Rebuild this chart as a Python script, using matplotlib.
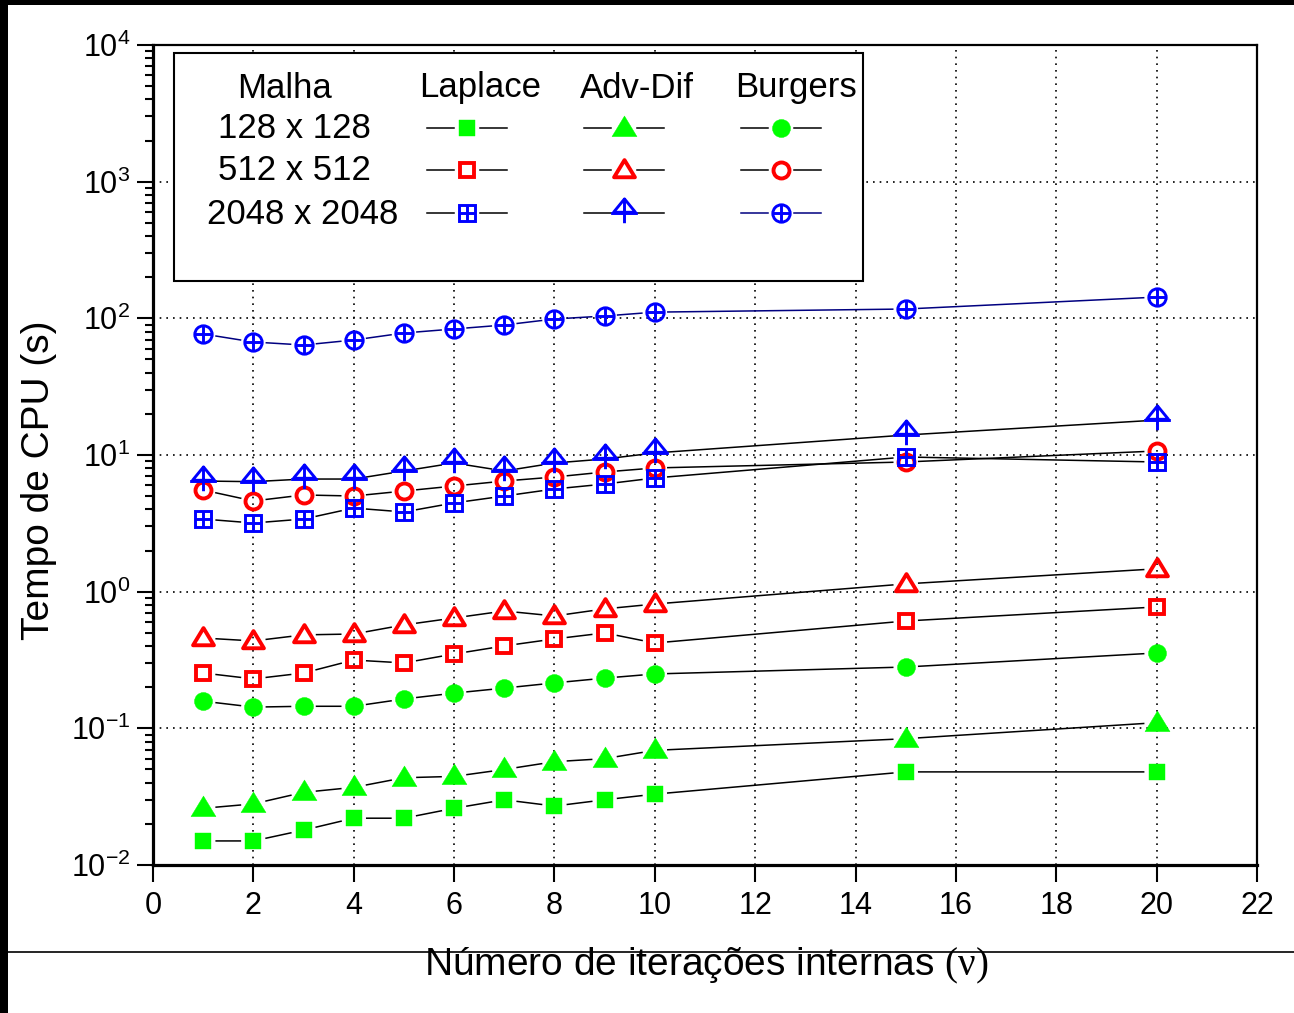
import numpy as np
import matplotlib
matplotlib.use("Agg")
import matplotlib.pyplot as plt
from matplotlib.path import Path
from matplotlib.patches import Rectangle
from matplotlib.lines import Line2D

plt.rcParams["font.family"] = "Liberation Sans"
plt.rcParams["mathtext.fontset"] = "custom"
plt.rcParams["mathtext.rm"] = "Liberation Serif"
plt.rcParams["mathtext.default"] = "regular"
plt.rcParams["axes.unicode_minus"] = False

# data
nu = [1, 2, 3, 4, 5, 6, 7, 8, 9, 10, 15, 20]

lap128 = [0.015, 0.015, 0.018, 0.022, 0.022, 0.026, 0.030, 0.027, 0.030, 0.033, 0.048, 0.048]
adv128 = [0.026, 0.028, 0.034, 0.037, 0.0435, 0.0445, 0.050, 0.057, 0.060, 0.069, 0.084, 0.110]
bur128 = [0.158, 0.143, 0.145, 0.145, 0.164, 0.181, 0.197, 0.215, 0.233, 0.250, 0.281, 0.356]

lap512 = [0.254, 0.230, 0.254, 0.316, 0.301, 0.350, 0.401, 0.451, 0.499, 0.421, 0.610, 0.773]
adv512 = [0.458, 0.436, 0.483, 0.490, 0.571, 0.642, 0.722, 0.664, 0.748, 0.812, 1.14, 1.47]
bur512 = [5.54, 4.61, 5.10, 5.01, 5.45, 5.93, 6.45, 6.90, 7.51, 8.04, 8.89, 10.7]

lap2048 = [3.40, 3.18, 3.40, 4.09, 3.83, 4.46, 5.01, 5.64, 6.13, 6.79, 9.67, 8.89]
adv2048 = [6.45, 6.38, 6.67, 6.67, 7.64, 8.74, 7.64, 8.74, 9.35, 10.35, 14.0, 18.0]
bur2048 = [76.8, 67.1, 63.8, 69.4, 78.1, 83.6, 89.4, 98.9, 104, 111, 117, 143]

meshes = ["128 x 128", "512 x 512", "2048 x 2048"]
problems = ["Laplace", "Adv-Dif", "Burgers"]

GREEN = "#00ff00"
RED = "#ff0000"
BLUE = "#0000ff"
NAVY = "#000080"

W, H = 1294, 1013

# triangle whose centre sits a little above the data point
TRI = Path([(0, 1), (-1, -0.65), (1, -0.65), (0, 1)],
           [Path.MOVETO, Path.LINETO, Path.LINETO, Path.CLOSEPOLY])
# triangle with a cross through it
TRIPLUS = Path([(0, 12), (-9, 1), (9, 1), (0, 12),
                (-11, 0), (11, 0), (0, 12), (0, -8)],
               [Path.MOVETO, Path.LINETO, Path.LINETO, Path.CLOSEPOLY,
                Path.MOVETO, Path.LINETO, Path.MOVETO, Path.LINETO])

styles = {
    "lap128": [dict(marker="s", ms=11.5, mfc=GREEN, mec=GREEN, mew=0.3)],
    "adv128": [dict(marker=TRI, ms=18, mfc=GREEN, mec=GREEN, mew=0.3)],
    "bur128": [dict(marker="o", ms=13, mfc=GREEN, mec=GREEN, mew=0.3)],
    "lap512": [dict(marker="s", ms=10, mfc="none", mec=RED, mew=2.8)],
    "adv512": [dict(marker=TRI, ms=15, mfc="none", mec=RED, mew=2.8)],
    "bur512": [dict(marker="o", ms=11.5, mfc="none", mec=RED, mew=2.8)],
    "lap2048": [dict(marker="s", ms=11, mfc="none", mec=BLUE, mew=2.1),
                dict(marker="+", ms=11, mec=BLUE, mew=2.1)],
    "adv2048": [dict(marker=TRIPLUS, ms=21, mfc="none", mec=BLUE, mew=2.1)],
    "bur2048": [dict(marker="o", ms=12.5, mfc="none", mec=BLUE, mew=2.1),
                dict(marker="+", ms=12.5, mec=BLUE, mew=2.1)],
}

series = [
    ("lap128", lap128, "k"), ("adv128", adv128, "k"), ("bur128", bur128, "k"),
    ("lap512", lap512, "k"), ("adv512", adv512, "k"), ("bur512", bur512, "k"),
    ("lap2048", lap2048, "k"), ("adv2048", adv2048, "k"), ("bur2048", bur2048, NAVY),
]

GAP = 13  # pixels between line ends and marker centre


def gapped_line(ax, x, y, color):
    pts = ax.transData.transform(np.column_stack([x, y]))
    inv = ax.transData.inverted()
    xs, ys = [], []
    for p0, p1 in zip(pts[:-1], pts[1:]):
        d = p1 - p0
        L = np.hypot(d[0], d[1])
        if L <= 2 * GAP:
            continue
        u = d / L
        seg = inv.transform([p0 + u * GAP, p1 - u * GAP])
        xs += [seg[0, 0], seg[1, 0], np.nan]
        ys += [seg[0, 1], seg[1, 1], np.nan]
    ax.plot(xs, ys, color=color, lw=1.1, zorder=2)


def fpos(px, py):
    return px / W, 1 - py / H


fig = plt.figure(figsize=(W / 100, H / 100), dpi=100)
ax = fig.add_axes([153 / W, 1 - 865 / H, (1257 - 153) / W, (865 - 45) / H])
ax.set_yscale("log")
ax.set_xlim(0, 22)
ax.set_ylim(1e-2, 1e4)
ax.set_xticks(range(0, 23, 2))
ax.xaxis.set_minor_locator(matplotlib.ticker.NullLocator())

ax.grid(True, which="major", color="k", linestyle=(0, (1, 3)), lw=1.2)
ax.set_axisbelow(True)

for key, vals, lc in series:
    gapped_line(ax, nu, vals, lc)
    for st in styles[key]:
        ax.plot(nu, vals, ls="none", zorder=3, **st)

ax.tick_params(axis="x", which="major", direction="out", length=12, width=1.5,
               labelsize=22, pad=7, top=False)
ax.tick_params(axis="y", which="major", direction="out", length=11.5, width=1.5,
               labelsize=22, pad=5, right=False)
ax.tick_params(axis="y", which="minor", direction="out", length=6, width=1.5,
               right=False)
for s in ["left", "bottom"]:
    ax.spines[s].set_linewidth(2.3)
for s in ["top", "right"]:
    ax.spines[s].set_linewidth(1.6)

ax.set_ylabel("Tempo de CPU (s)", fontsize=28)
ax.yaxis.set_label_coords((57 - 153) / 1104, (865 - 480) / 820)
ax.set_xlabel(r"Número de iterações internas $\mathrm{(\nu)}$", fontsize=28)
ax.xaxis.set_label_coords((706 - 153) / 1104, (865 - 946) / 820)

# legend drawn as a table
x0, y0 = fpos(174, 281)
x1, y1 = fpos(863, 53)
fig.add_artist(Rectangle((x0, y0), x1 - x0, y1 - y0, transform=fig.transFigure,
                         facecolor="white", edgecolor="k", lw=1.5, zorder=5))

head_x = [285, 480, 637, 796]
for txt, hx in zip(["Malha"] + problems, head_x):
    fig.text(*fpos(hx, 88), txt, ha="center", va="center", fontsize=25, zorder=6)

row_y = [128, 170, 213]
mesh_x = [294, 294, 303]
for txt, mx, ry in zip(meshes, mesh_x, row_y):
    fig.text(*fpos(mx, ry + 1), txt, ha="center", va="center", fontsize=25, zorder=6)

grid_keys = [["lap128", "adv128", "bur128"],
             ["lap512", "adv512", "bur512"],
             ["lap2048", "adv2048", "bur2048"]]
sample_x = [467, 624, 781]
for r, ry in enumerate(row_y):
    for c, sx in enumerate(sample_x):
        key = grid_keys[r][c]
        lc = NAVY if key == "bur2048" else "k"
        for a, b in [(sx - 40, sx - GAP), (sx + GAP, sx + 40)]:
            xa, ya = fpos(a, ry)
            xb, yb = fpos(b, ry)
            fig.add_artist(Line2D([xa, xb], [ya, yb], transform=fig.transFigure,
                                  color=lc, lw=1.1, zorder=6))
        mx, my = fpos(sx, ry)
        for st in styles[key]:
            fig.add_artist(Line2D([mx], [my], transform=fig.transFigure,
                                  ls="none", zorder=7, **st))

# scan borders seen in the source image
fig.add_artist(Rectangle((0, 1 - 5 / H), 1, 5 / H, transform=fig.transFigure,
                         facecolor="k", edgecolor="none", zorder=8))
fig.add_artist(Rectangle((0, 0), 8 / W, 1, transform=fig.transFigure,
                         facecolor="k", edgecolor="none", zorder=8))
fig.add_artist(Line2D([8 / W, 1], [1 - 952 / H, 1 - 952 / H],
                      transform=fig.transFigure, color="k", lw=1.2, zorder=8))

fig.savefig("out.png", dpi=100)
plt.close(fig)
